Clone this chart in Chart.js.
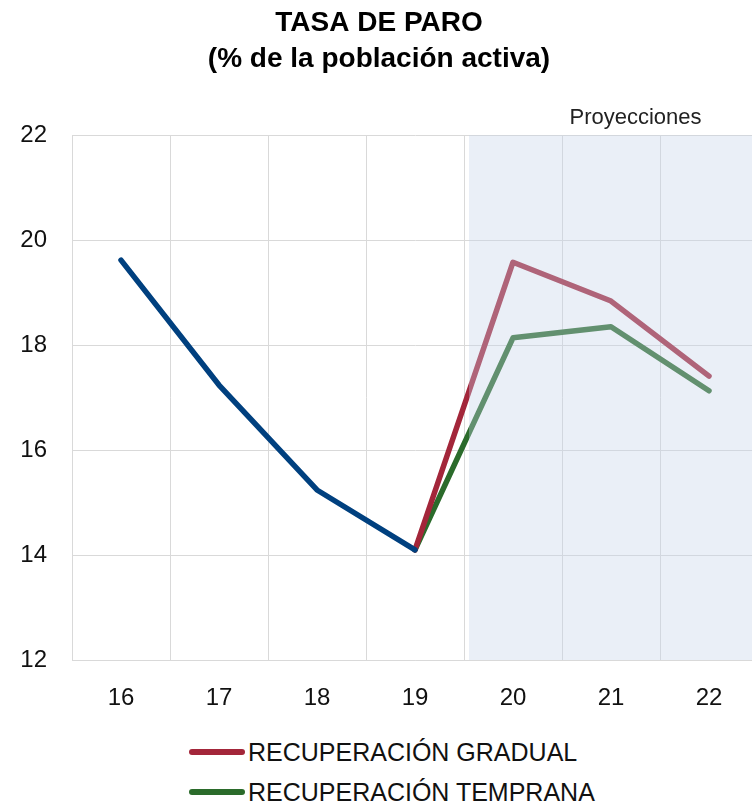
<!DOCTYPE html>
<html>
<head>
<meta charset="utf-8">
<script src="https://cdn.jsdelivr.net/npm/chart.js@4/dist/chart.umd.min.js"></script>
<style>
  html, body { margin: 0; padding: 0; background: #fff; overflow: hidden; width: 752px; height: 804px; }
  #wrap { position: absolute; left: 0; top: 0; width: 776px; height: 720px; }
  #legend { position: absolute; left: 189px; top: 732px; font-family: "Liberation Sans", Arial, sans-serif; font-size: 25px; color: #111; }
  .row { display: flex; align-items: center; height: 40px; }
  .swatch { width: 56px; height: 6px; border-radius: 3px; margin-right: 3px; }
</style>
</head>
<body>
<div id="wrap"><canvas id="c" width="776" height="720"></canvas></div>
<div id="legend"></div>
<script>
const categories = ["16", "17", "18", "19", "20", "21", "22"];
const historico = [19.62, 17.24, 15.24, 14.1, null, null, null];
const gradual   = [null, null, null, 14.1, 19.58, 18.84, 17.41];
const temprana  = [null, null, null, 14.1, 18.14, 18.35, 17.13];
const seriesNames = ["RECUPERACIÓN GRADUAL", "RECUPERACIÓN TEMPRANA"];
const titleLines = ["TASA DE PARO", "(% de la población activa)"];
const projLabel = "Proyecciones";
const projStartIndex = 3.5;

const BLUE = "#00407f", RED = "#a3263a", GREEN = "#2b6b2b";
const FONT = "'Liberation Sans', Arial, sans-serif";

const shadePlugin = {
  id: "shade",
  afterDatasetsDraw(chart) {
    const { ctx, chartArea, scales } = chart;
    const x0 = scales.x.getPixelForValue(projStartIndex) + 5;
    ctx.save();
    ctx.fillStyle = "rgba(196,210,232,0.36)";
    ctx.fillRect(x0, chartArea.top, chartArea.right - x0, chartArea.bottom - chartArea.top);
    ctx.fillStyle = "#222";
    ctx.font = "22px " + FONT;
    ctx.textAlign = "center";
    ctx.textBaseline = "middle";
    ctx.fillText(projLabel, scales.x.getPixelForValue(5.25), chartArea.top - 17);
    ctx.restore();
  }
};

const lineStyle = { borderWidth: 5.5, pointRadius: 0, borderCapStyle: "round", borderJoinStyle: "round", tension: 0, fill: false, spanGaps: false };

new Chart(document.getElementById("c"), {
  type: "line",
  data: {
    labels: categories,
    datasets: [
      Object.assign({ label: "Histórico", data: historico, borderColor: BLUE, backgroundColor: BLUE }, lineStyle),
      Object.assign({ label: seriesNames[0], data: gradual, borderColor: RED, backgroundColor: RED }, lineStyle),
      Object.assign({ label: seriesNames[1], data: temprana, borderColor: GREEN, backgroundColor: GREEN }, lineStyle)
    ]
  },
  options: {
    responsive: false,
    animation: false,
    layout: { padding: { left: 0, right: 18, top: 0, bottom: 0 } },
    plugins: {
      legend: { display: false },
      tooltip: { enabled: false },
      title: {
        display: true,
        text: titleLines,
        color: "#000",
        font: { family: FONT, size: 28, weight: "bold", lineHeight: 1.29 },
        padding: { top: 5, bottom: 58 }
      }
    },
    scales: {
      x: {
        offset: true,
        grid: { color: "#d9d9d9", lineWidth: 1, offset: true, drawTicks: false },
        border: { color: "#d9d9d9" },
        ticks: { color: "#111", font: { family: FONT, size: 24 }, padding: 24, maxRotation: 0 },
        afterFit(s) { s.height = 60; }
      },
      y: {
        min: 12, max: 22,
        grid: { color: "#d9d9d9", lineWidth: 1, drawTicks: false },
        border: { color: "#d9d9d9" },
        ticks: { stepSize: 2, color: "#111", font: { family: FONT, size: 24 }, padding: 25 },
        afterFit(s) { s.width = 72; }
      }
    }
  },
  plugins: [shadePlugin]
});

const leg = document.getElementById("legend");
[[seriesNames[0], RED], [seriesNames[1], GREEN]].forEach(([name, col]) => {
  const r = document.createElement("div"); r.className = "row";
  const s = document.createElement("div"); s.className = "swatch"; s.style.background = col;
  const t = document.createElement("span"); t.textContent = name;
  r.appendChild(s); r.appendChild(t); leg.appendChild(r);
});
</script>
</body>
</html>
